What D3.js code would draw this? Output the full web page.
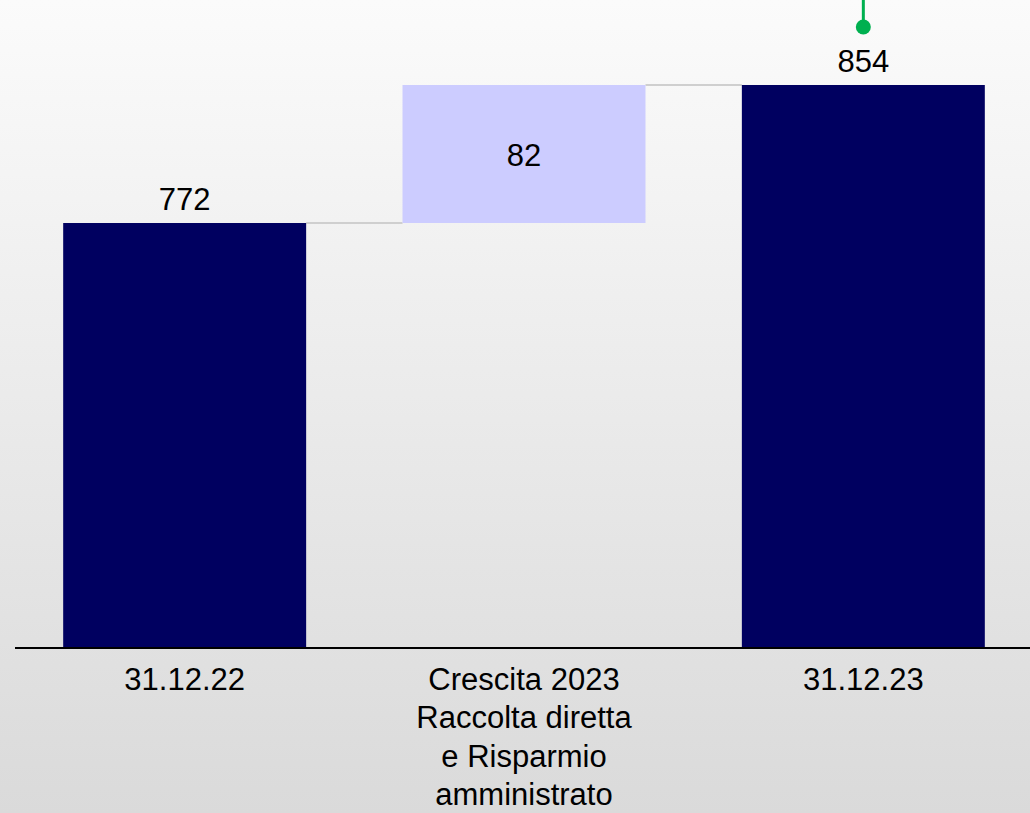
<!DOCTYPE html>
<html>
<head>
<meta charset="utf-8">
<script src="https://cdn.jsdelivr.net/npm/d3@7"></script>
<style>
  html, body { margin: 0; padding: 0; background: #ffffff; }
  svg { display: block; }
  text { font-family: "Liberation Sans", Arial, sans-serif; fill: #000; }
</style>
</head>
<body>
<svg id="chart" width="1030" height="813"></svg>
<script>
// Waterfall: stock at end of 2022, growth during 2023, stock at end of 2023
const categories = ["31.12.22", "Crescita 2023", "31.12.23"];
const tickLabels = [
  ["31.12.22"],
  ["Crescita 2023", "Raccolta diretta", "e Risparmio", "amministrato"],
  ["31.12.23"]
];
const values = [772, 82, 854];
const kinds = ["total", "delta", "total"];

const W = 1030, H = 813;
const baseY = 648;

const svg = d3.select("#chart");

// soft vertical background gradient
const defs = svg.append("defs");
const grad = defs.append("linearGradient")
  .attr("id", "bg").attr("x1", 0).attr("y1", 0).attr("x2", 0).attr("y2", 1);
grad.append("stop").attr("offset", "0%").attr("stop-color", "#fbfbfb");
grad.append("stop").attr("offset", "100%").attr("stop-color", "#dadada");
svg.append("rect").attr("width", W).attr("height", H).attr("fill", "url(#bg)");

const x = d3.scaleBand()
  .domain(categories)
  .range([15, 1033])
  .paddingInner(0.284)
  .paddingOuter(0.142);

const y = d3.scaleLinear()
  .domain([519.5, 904.5])
  .range([baseY, 0]);

// compute bar extents for the waterfall
let running = 0;
const bars = categories.map((c, i) => {
  let lo, hi;
  if (kinds[i] === "total") {
    lo = y.domain()[0];
    hi = values[i];
    running = values[i];
  } else {
    lo = running;
    hi = running + values[i];
    running = hi;
  }
  return { cat: c, value: values[i], kind: kinds[i], lo, hi };
});

// connector lines between consecutive bars
const conn = svg.append("g");
for (let i = 0; i < bars.length - 1; i++) {
  const level = bars[i].hi;
  conn.append("line")
    .attr("x1", x(bars[i].cat) + x.bandwidth())
    .attr("x2", x(bars[i + 1].cat))
    .attr("y1", y(level))
    .attr("y2", y(level))
    .attr("stroke", "#cfcfcf")
    .attr("stroke-width", 2);
}

// bars
svg.append("g").selectAll("rect")
  .data(bars)
  .join("rect")
  .attr("x", d => x(d.cat))
  .attr("width", x.bandwidth())
  .attr("y", d => y(d.hi))
  .attr("height", d => y(d.lo) - y(d.hi))
  .attr("fill", d => d.kind === "total" ? "#000060" : "#ccccff");

// value labels
svg.append("g").selectAll("text")
  .data(bars)
  .join("text")
  .attr("x", d => x(d.cat) + x.bandwidth() / 2)
  .attr("y", d => d.kind === "total" ? y(d.hi) - 13 : (y(d.hi) + y(d.lo)) / 2)
  .attr("dy", d => d.kind === "total" ? 0 : "0.4em")
  .attr("text-anchor", "middle")
  .attr("font-size", 31)
  .text(d => d.value);

// category axis
const axis = svg.append("g")
  .attr("transform", `translate(0,${baseY})`)
  .call(d3.axisBottom(x).tickSize(0).tickSizeOuter(0));
axis.select(".domain").attr("stroke", "#000").attr("stroke-width", 2)
  .attr("d", `M15,0H${W}`);
axis.selectAll(".tick text")
  .attr("font-size", 31)
  .attr("font-family", "Liberation Sans, Arial, sans-serif")
  .attr("fill", "#000")
  .attr("y", 42)
  .attr("dy", null)
  .each(function (d, i) {
    const t = d3.select(this);
    t.text(null);
    tickLabels[i].forEach((line, j) => {
      t.append("tspan")
        .attr("x", 0)
        .attr("dy", j === 0 ? 0 : 38.3)
        .text(line);
    });
  });

// green marker above the closing bar
const last = bars[bars.length - 1];
const cx = x(last.cat) + x.bandwidth() / 2;
svg.append("line")
  .attr("x1", cx).attr("x2", cx)
  .attr("y1", 0).attr("y2", 27)
  .attr("stroke", "#00b050").attr("stroke-width", 3);
svg.append("circle")
  .attr("cx", cx).attr("cy", 27).attr("r", 7.5)
  .attr("fill", "#00b050");
</script>
</body>
</html>
